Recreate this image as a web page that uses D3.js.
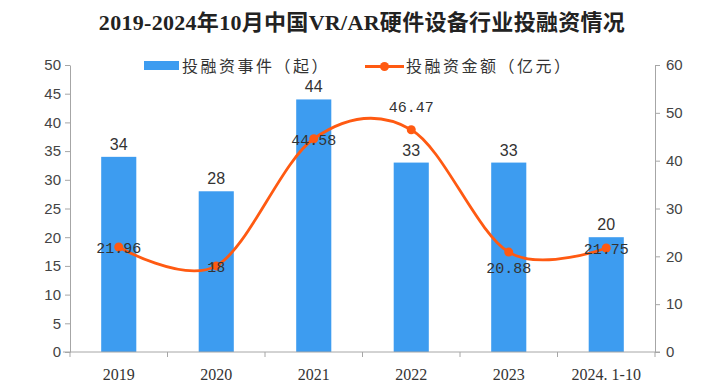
<!DOCTYPE html>
<html>
<head>
<meta charset="utf-8">
<script src="https://cdn.jsdelivr.net/npm/d3@7"></script>
<style>
  html, body { margin: 0; padding: 0; background: #fff; }
  svg { display: block; }
</style>
</head>
<body>
<svg id="chart"></svg>
<script>
// data
const years = ["2019", "2020", "2021", "2022", "2023", "2024.1-10"];
const yearLabels = ["2019", "2020", "2021", "2022", "2023", "2024. 1-10"];
const deals = [34, 28, 44, 33, 33, 20];          // 投融资事件（起）
const amounts = [21.96, 18, 44.58, 46.47, 20.88, 21.75]; // 投融资金额（亿元）
const amountLabels = ["21.96", "18", "44.58", "46.47", "20.88", "21.75"];
const amountLabelPos = ["center", "center", "center", "above", "below", "center"];
const leftTicks = [0, 5, 10, 15, 20, 25, 30, 35, 40, 45, 50];
const rightTicks = [0, 10, 20, 30, 40, 50, 60];

const width = 724, height = 386;
const margin = { top: 65, right: 69, bottom: 34, left: 70 };
const barColor = "#3d9cf0";
const lineColor = "#ff5a12";
const axisColor = "#a6a6a6";
const txtColor = "#333";

const svg = d3.select("#chart").attr("width", width).attr("height", height);

const x = d3.scaleBand()
  .domain(years)
  .range([margin.left, width - margin.right])
  .paddingInner(0.64)
  .paddingOuter(0.32);

const yL = d3.scaleLinear().domain([0, 50]).range([height - margin.bottom, margin.top]);
const yR = d3.scaleLinear().domain([0, 60]).range([height - margin.bottom, margin.top]);

// title
svg.append("text")
  .attr("x", width / 2)
  .attr("y", 30)
  .attr("text-anchor", "middle")
  .attr("font-family", "'Liberation Serif', 'Noto Sans CJK SC', serif")
  .attr("font-weight", "bold")
  .attr("font-size", 22)
  .attr("letter-spacing", 0.3)
  .attr("fill", "#222")
  .text("2019-2024年10月中国VR/AR硬件设备行业投融资情况");

// bars
svg.append("g")
  .selectAll("rect")
  .data(deals)
  .join("rect")
  .attr("x", (d, i) => x(years[i]))
  .attr("y", d => yL(d))
  .attr("width", x.bandwidth())
  .attr("height", d => yL(0) - yL(d))
  .attr("fill", barColor);

// axes
const xAxisY = yL(0);
const axes = svg.append("g").attr("stroke", axisColor).attr("stroke-width", 1);
axes.append("line")
  .attr("x1", margin.left - 7).attr("x2", width - margin.right + 5)
  .attr("y1", xAxisY).attr("y2", xAxisY);
const step = x.step();
const bounds = years.map(c => x(c) + x.bandwidth() / 2 - step / 2)
  .concat([x(years[years.length - 1]) + x.bandwidth() / 2 + step / 2]);
axes.selectAll(".xt")
  .data(bounds)
  .join("line")
  .attr("x1", d => d).attr("x2", d => d)
  .attr("y1", xAxisY).attr("y2", xAxisY + 5);

const leftAxis = svg.append("g")
  .attr("transform", `translate(${margin.left},0)`)
  .call(d3.axisLeft(yL).tickValues(leftTicks).tickSize(5).tickSizeOuter(0).tickPadding(4));
const rightAxis = svg.append("g")
  .attr("transform", `translate(${width - margin.right},0)`)
  .call(d3.axisRight(yR).tickValues(rightTicks).tickSize(5).tickSizeOuter(0).tickPadding(6));
[leftAxis, rightAxis].forEach(g => {
  g.selectAll("path, line").attr("stroke", axisColor);
  g.selectAll("text")
    .attr("font-family", "'Liberation Sans', Arial, sans-serif")
    .attr("font-size", 15)
    .attr("fill", "#444");
});

// x labels
svg.append("g")
  .selectAll("text")
  .data(years)
  .join("text")
  .attr("x", d => x(d) + x.bandwidth() / 2)
  .attr("y", xAxisY + 28)
  .attr("text-anchor", "middle")
  .attr("font-family", "'Liberation Serif', serif")
  .attr("font-size", 16)
  .attr("fill", txtColor)
  .text((d, i) => yearLabels[i]);

// bar labels
svg.append("g")
  .selectAll("text")
  .data(deals)
  .join("text")
  .attr("x", (d, i) => x(years[i]) + x.bandwidth() / 2)
  .attr("y", d => yL(d) - 7)
  .attr("text-anchor", "middle")
  .attr("font-family", "'Liberation Sans', Arial, sans-serif")
  .attr("font-size", 16)
  .attr("fill", txtColor)
  .text(d => d);

// line
const pts = amounts.map((v, i) => [x(years[i]) + x.bandwidth() / 2, yR(v)]);
svg.append("path")
  .datum(pts)
  .attr("fill", "none")
  .attr("stroke", lineColor)
  .attr("stroke-width", 2.8)
  .attr("d", d3.line().curve(d3.curveCardinal.tension(0)));
svg.append("g")
  .selectAll("circle")
  .data(pts)
  .join("circle")
  .attr("cx", d => d[0]).attr("cy", d => d[1])
  .attr("r", 4.5)
  .attr("fill", lineColor);

// line labels
svg.append("g")
  .selectAll("text")
  .data(amounts)
  .join("text")
  .attr("x", (d, i) => pts[i][0])
  .attr("y", (d, i) => {
    const p = amountLabelPos[i];
    return pts[i][1] + (p === "above" ? -18 : p === "below" ? 21 : 6);
  })
  .attr("text-anchor", "middle")
  .attr("font-family", "'Liberation Mono', monospace")
  .attr("font-size", 15)
  .attr("fill", txtColor)
  .text((d, i) => amountLabels[i]);

// legend
const lg = svg.append("g")
  .attr("font-family", "'Noto Sans CJK SC', sans-serif")
  .attr("font-size", 16)
  .attr("fill", txtColor);
lg.append("rect").attr("x", 144).attr("y", 61).attr("width", 35).attr("height", 9).attr("fill", barColor);
lg.append("text").attr("x", 182).attr("y", 72).attr("letter-spacing", 2.5).text("投融资事件（起）");
lg.append("line").attr("x1", 365).attr("x2", 404).attr("y1", 66.5).attr("y2", 66.5)
  .attr("stroke", lineColor).attr("stroke-width", 2.8);
lg.append("circle").attr("cx", 384.5).attr("cy", 66.5).attr("r", 4.5).attr("fill", lineColor);
lg.append("text").attr("x", 406).attr("y", 72).attr("letter-spacing", 2.5).text("投融资金额（亿元）");
</script>
</body>
</html>
